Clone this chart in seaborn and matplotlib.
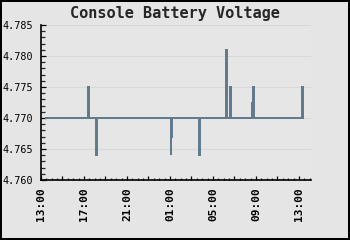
import matplotlib
matplotlib.use("Agg")
import matplotlib.pyplot as plt
import matplotlib.dates as mdates
import matplotlib.ticker as mticker
import pandas as pd
import seaborn as sns

title = "Console Battery Voltage"

times = [
    "2024-05-01 13:25",
    "2024-05-01 17:22", "2024-05-01 17:25", "2024-05-01 17:28",
    "2024-05-01 18:04", "2024-05-01 18:07", "2024-05-01 18:10",
    "2024-05-02 01:02", "2024-05-02 01:05", "2024-05-02 01:08", "2024-05-02 01:13",
    "2024-05-02 03:40", "2024-05-02 03:43", "2024-05-02 03:46",
    "2024-05-02 06:10", "2024-05-02 06:13", "2024-05-02 06:16",
    "2024-05-02 06:33", "2024-05-02 06:36", "2024-05-02 06:39",
    "2024-05-02 08:36", "2024-05-02 08:39", "2024-05-02 08:44", "2024-05-02 08:47",
    "2024-05-02 13:14", "2024-05-02 13:17", "2024-05-02 13:20",
    "2024-05-02 13:28",
]
voltage = [
    4.770,
    4.770, 4.775, 4.770,
    4.770, 4.764, 4.770,
    4.770, 4.764, 4.767, 4.770,
    4.770, 4.764, 4.770,
    4.770, 4.781, 4.770,
    4.770, 4.775, 4.770,
    4.770, 4.7725, 4.775, 4.770,
    4.770, 4.775, 4.770,
    4.770,
]
x_start = "2024-05-01 13:00"
x_end = "2024-05-02 14:07"
y_min, y_max = 4.760, 4.785

df = pd.DataFrame({"time": pd.to_datetime(times), "voltage": voltage})

sns.set_style("white")
mono = ["DejaVu Sans Mono"]

fig = plt.figure(figsize=(3.5, 2.4), dpi=100)
fig.patch.set_facecolor("#e5e5e5")
fig.patch.set_edgecolor("black")
fig.patch.set_linewidth(1.5)

ax = fig.add_axes([41 / 350, 1 - 180 / 240, 270 / 350, 155 / 240])
ax.set_facecolor("#e6e6e6")

sns.lineplot(data=df, x="time", y="voltage", ax=ax, color="#5e7a8b",
             linewidth=1.4, drawstyle="steps-post",
             solid_joinstyle="miter", solid_capstyle="butt")

ax.set_xlim(pd.Timestamp(x_start), pd.Timestamp(x_end))
ax.set_ylim(y_min, y_max)

ax.xaxis.set_major_locator(mdates.HourLocator(byhour=range(1, 24, 2)))
ax.xaxis.set_minor_locator(mdates.MinuteLocator(byminute=[0, 30]))

def xfmt(v, pos):
    d = mdates.num2date(v)
    if (d.hour - 13) % 4 == 0:
        return d.strftime("%H:%M")
    return ""

ax.xaxis.set_major_formatter(mticker.FuncFormatter(xfmt))
ax.yaxis.set_major_locator(mticker.MultipleLocator(0.005))
ax.yaxis.set_minor_locator(mticker.MultipleLocator(0.001))
ax.yaxis.set_major_formatter(mticker.FormatStrFormatter("%.3f"))

ax.tick_params(axis="x", which="major", direction="in", length=3.2, width=0.9,
               pad=5, labelsize=8, labelrotation=90, colors="black")
ax.tick_params(axis="x", which="minor", direction="in", length=1.8, width=0.9)
ax.tick_params(axis="y", which="major", direction="in", length=3.5, width=0.9,
               pad=5.5, labelsize=7.3, colors="black")
ax.tick_params(axis="y", which="minor", direction="in", length=3.0, width=0.9)
ax.tick_params(axis="both", which="both", bottom=True, left=True, top=False, right=False)

for lab in ax.get_xticklabels():
    lab.set_family(mono)
    lab.set_fontweight("bold")
for lab in ax.get_yticklabels():
    lab.set_family(mono)

ax.grid(True, axis="y", which="major", color="#d8d8d8", linewidth=0.8)
ax.grid(False, axis="x")
ax.set_axisbelow(True)

for s in ["top", "right"]:
    ax.spines[s].set_visible(False)
for s in ["left", "bottom"]:
    ax.spines[s].set_color("black")
    ax.spines[s].set_linewidth(1.2)

ax.set_xlabel("")
ax.set_ylabel("")

fig.text(0.5, 1 - 18 / 240, title, ha="center", va="baseline",
         family=mono, fontweight="bold", fontsize=11)

fig.savefig("out.png", dpi=100, facecolor=fig.get_facecolor(),
             edgecolor=fig.get_edgecolor())
